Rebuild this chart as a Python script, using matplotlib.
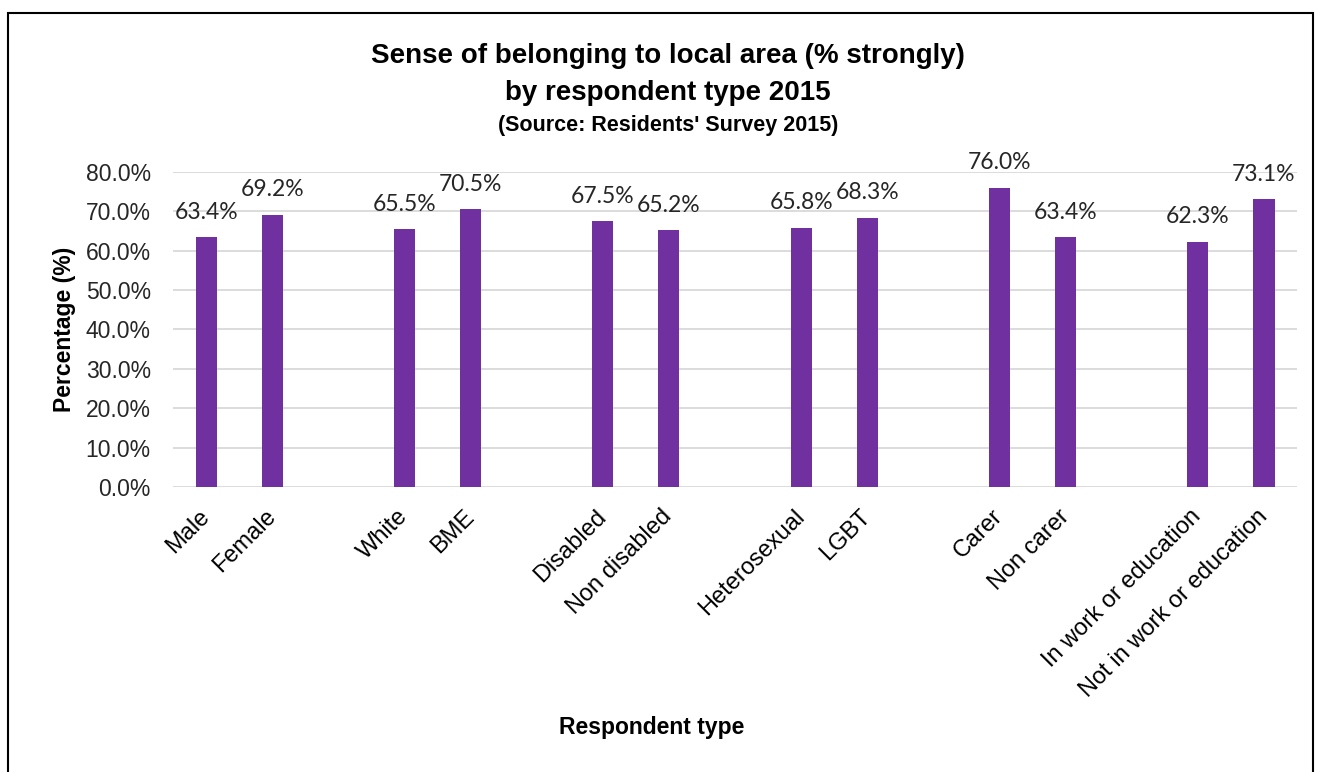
import matplotlib.pyplot as plt
from matplotlib.patches import Rectangle
from matplotlib.ticker import FuncFormatter

categories = ['Male', 'Female', 'White', 'BME', 'Disabled', 'Non disabled',
              'Heterosexual', 'LGBT', 'Carer', 'Non carer',
              'In work or education', 'Not in work or education']
values = [63.4, 69.2, 65.5, 70.5, 67.5, 65.2, 65.8, 68.3, 76.0, 63.4, 62.3, 73.1]

# pairs of bars with an empty slot between each pair
pos = [(i // 2) * 3 + i % 2 for i in range(len(categories))]

plt.rcParams['font.family'] = ['Liberation Sans', 'DejaVu Sans']

fig = plt.figure(figsize=(13.17, 7.72), dpi=100)
ax = fig.add_axes([0.1314, 0.3692, 0.8534, 0.408])

bars = ax.bar(pos, values, width=0.32, color='#7030A0', zorder=3)
for b, v in zip(bars, values):
    ax.annotate('%.1f%%' % v, (b.get_x() + b.get_width() / 2, v),
                xytext=(0, 10.5), textcoords='offset points',
                ha='center', va='bottom', fontsize=16.5, family='Lato',
                color='#262626', annotation_clip=False)

ax.set_xlim(-0.5, 16.5)
ax.set_ylim(0, 80)
ax.set_yticks(range(0, 81, 10))
ax.yaxis.set_major_formatter(FuncFormatter(lambda y, _: '%.1f%%' % y))
ax.grid(axis='y', color='#D9D9D9', linewidth=1.3, zorder=0)
for s in ax.spines.values():
    s.set_visible(False)
ax.tick_params(length=0)
ax.tick_params(axis='y', pad=16, labelsize=16.5, labelcolor='#262626')

ax.set_xticks(pos)
ax.set_xticklabels(categories, rotation=45, ha='right', va='center',
                   rotation_mode='anchor')
ax.tick_params(axis='x', pad=19, labelsize=17, labelcolor='black')

ax.set_ylabel('Percentage (%)', fontsize=16.5, fontweight='bold', labelpad=7)
fig.text(0.495, 0.058, 'Respondent type', ha='center', va='center',
         fontsize=16.5, fontweight='bold')

fig.text(0.507, 0.928, 'Sense of belonging to local area (% strongly)',
         ha='center', va='center', fontsize=20, fontweight='bold')
fig.text(0.507, 0.880, 'by respondent type 2015',
         ha='center', va='center', fontsize=20, fontweight='bold')
fig.text(0.507, 0.837, "(Source: Residents' Survey 2015)",
         ha='center', va='center', fontsize=15.5, fontweight='bold')

# outer frame of the chart area
fig.patches.append(Rectangle((0.006, -0.05), 0.991, 1.033,
                             transform=fig.transFigure, fill=False,
                             edgecolor='black', linewidth=1.5))

fig.savefig('out.png', dpi=100)
